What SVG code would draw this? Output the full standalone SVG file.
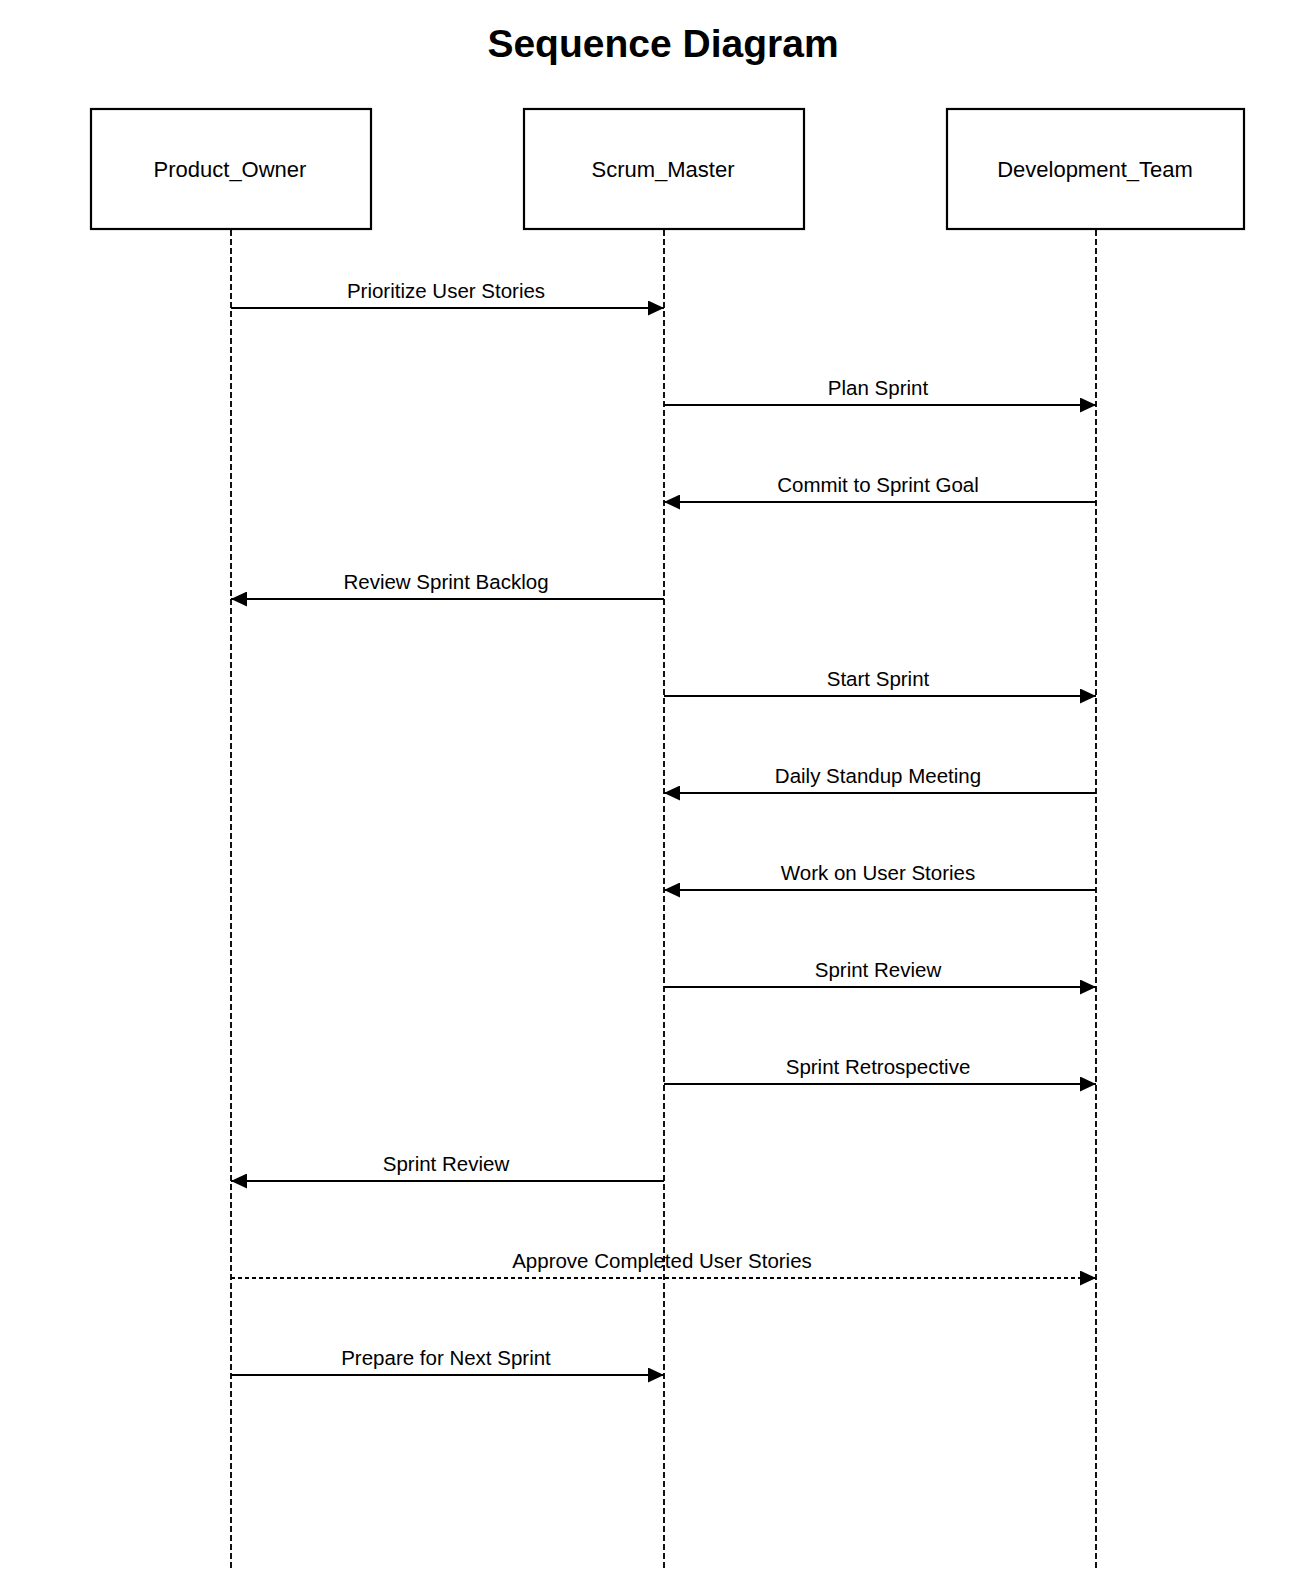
<svg xmlns="http://www.w3.org/2000/svg" width="1296" height="1596" viewBox="0 0 1296 1596">
  <style>
    .actor rect { fill: #ffffff; stroke: #000000; stroke-width: 2.2; }
    .actor text { font-family: "Liberation Sans", Arial, sans-serif; font-size: 22px; fill: #000000; text-anchor: middle; }
    .lifeline { stroke: #111111; stroke-width: 2; stroke-dasharray: 6 3; fill: none; }
    .msg { stroke: #000000; stroke-width: 2; fill: none; marker-end: url(#arrow); }
    .msg.async { stroke-dasharray: 4 3; }
    .label { font-family: "Liberation Sans", Arial, sans-serif; font-size: 20.5px; fill: #000000; text-anchor: middle; }
    .title { font-family: "Liberation Sans", Arial, sans-serif; font-size: 39px; font-weight: bold; fill: #000000; text-anchor: middle; }
  </style>
  <defs>
    <marker id="arrow" markerWidth="16" markerHeight="15" refX="16" refY="7.5" orient="auto" markerUnits="userSpaceOnUse">
      <path d="M0,0 L16,7.5 L0,15 Z" fill="#000000"/>
    </marker>
  </defs>

  <rect width="1296" height="1596" fill="#ffffff"/>

  <text class="title" x="663" y="57">Sequence Diagram</text>

  <!-- participants -->
  <g id="product_owner" class="actor">
    <rect x="91" y="109" width="280" height="120"/>
    <text x="230" y="177">Product_Owner</text>
  </g>
  <g id="scrum_master" class="actor">
    <rect x="524" y="109" width="280" height="120"/>
    <text x="663" y="177">Scrum_Master</text>
  </g>
  <g id="development_team" class="actor">
    <rect x="947" y="109" width="297" height="120"/>
    <text x="1095" y="177">Development_Team</text>
  </g>

  <!-- lifelines -->
  <g id="lifelines">
    <line class="lifeline" x1="231" y1="230" x2="231" y2="1568"/>
    <line class="lifeline" x1="664" y1="230" x2="664" y2="1568"/>
    <line class="lifeline" x1="1096" y1="230" x2="1096" y2="1568"/>
  </g>

  <!-- messages -->
  <g id="connectors">
    <line class="msg" x1="231" y1="308" x2="664" y2="308"/>
    <text class="label" x="446" y="298">Prioritize User Stories</text>

    <line class="msg" x1="664" y1="405" x2="1096" y2="405"/>
    <text class="label" x="878" y="395">Plan Sprint</text>

    <line class="msg" x1="1096" y1="502" x2="664" y2="502"/>
    <text class="label" x="878" y="492">Commit to Sprint Goal</text>

    <line class="msg" x1="664" y1="599" x2="231" y2="599"/>
    <text class="label" x="446" y="589">Review Sprint Backlog</text>

    <line class="msg" x1="664" y1="696" x2="1096" y2="696"/>
    <text class="label" x="878" y="686">Start Sprint</text>

    <line class="msg" x1="1096" y1="793" x2="664" y2="793"/>
    <text class="label" x="878" y="783">Daily Standup Meeting</text>

    <line class="msg" x1="1096" y1="890" x2="664" y2="890"/>
    <text class="label" x="878" y="880">Work on User Stories</text>

    <line class="msg" x1="664" y1="987" x2="1096" y2="987"/>
    <text class="label" x="878" y="977">Sprint Review</text>

    <line class="msg" x1="664" y1="1084" x2="1096" y2="1084"/>
    <text class="label" x="878" y="1074">Sprint Retrospective</text>

    <line class="msg" x1="664" y1="1181" x2="231" y2="1181"/>
    <text class="label" x="446" y="1171">Sprint Review</text>

    <line class="msg async" x1="231" y1="1278" x2="1096" y2="1278"/>
    <text class="label" x="662" y="1268">Approve Completed User Stories</text>

    <line class="msg" x1="231" y1="1375" x2="664" y2="1375"/>
    <text class="label" x="446" y="1365">Prepare for Next Sprint</text>
  </g>
</svg>
